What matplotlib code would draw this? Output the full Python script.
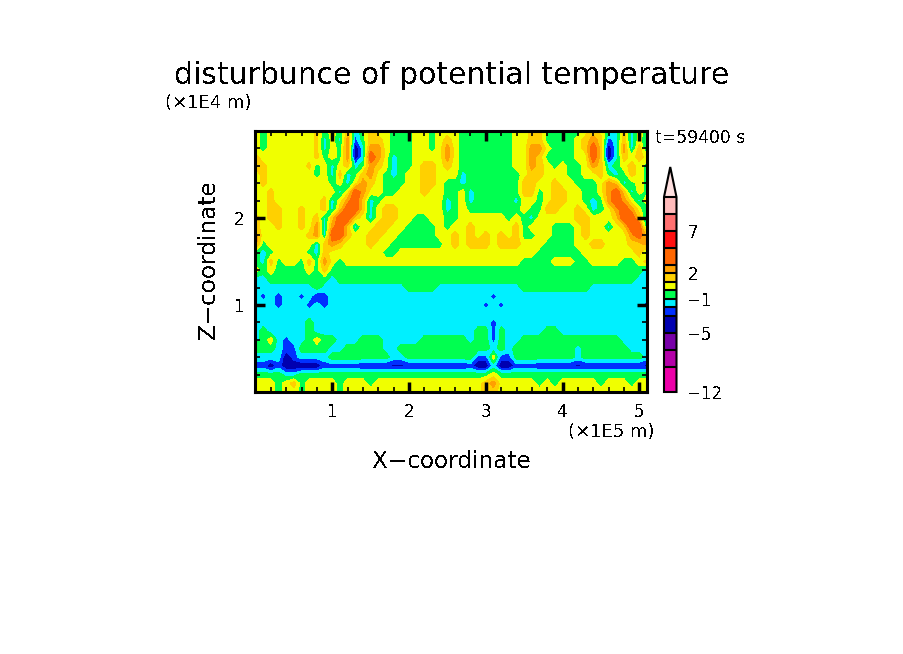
import numpy as np
import matplotlib
matplotlib.use("Agg")
import matplotlib.pyplot as plt
from matplotlib.colors import ListedColormap, BoundaryNorm

plt.rcParams['font.family'] = ['DejaVu Sans']
plt.rcParams['text.antialiased'] = False

# contour levels and colours of the shading
levels = [-12, -9, -7, -5, -3, -2, -1, 0, 1, 2, 3, 5, 7, 9, 11]
colors = ['#ec00a8', '#b400a8', '#7800a8', '#0000b0', '#0030ff', '#00f0ff', '#00ff50',
          '#f0ff00', '#ffd000', '#ffa000', '#ff6600', '#ff1010', '#ff7070', '#ffbbbb']
over_color = '#ffe0e0'
cbar_ticks = [-12, -5, -1, 2, 7]

# values, one letter per grid point
class_value = {'b': -4.0, 'd': -3.2, 'B': -2.5, 'e': -2.4, 'c': -1.5, 'g': -0.5,
               'y': 0.5, 'l': 1.3, 'o': 1.5, 'a': 2.5, 'r': 4.0}

x_km = np.arange(0, 52) * 0.1   # x1E5 m
z_km = np.arange(30, -1, -1) * 0.1   # x1E4 m

# rows from z=3.0 down to z=0.0, columns from x=0.0 to x=5.1
theta_rows = [
    "ygyyyyyylgygocgoyygggyygyyy" "gggggggyyooggggg" "yoygcocyg",
    "ygyyyyyylcycaBgooygggyygyoy" "gggggggyyoogggg" "y" "oao" "Bcocyc",
    "ygyyyyyylcygabcaaygggyygyay" "gggggggyyaaygggyorobcacoc",
    "lyyyyyyylgygabcraycggyyyyay" "gggggggyyaoggggyyrobcoyoy",
    "llyyyyylgycyocgaoycggyooyoy" "gggggggyyaoygyggyaocgyoyg",
    "ylyyyyyygycocgoaygcgyyooyyy" "cgggggggyooyyyggyyogcgoyg",
    "ylyyyyyyyygycyaoygggyyooygg" "cgggggggooyyoyygggyaocgyg",
    "yylyyyyyyyycyrayyggyyyoyygg" "ycggggggoogyooyyggyarocyg",
    "yylyyyyyyocyarocgyyyyyyyycg" "ycgggggcyygyooyygcgarayco",
    "yyllyylyyocorrocyooyyyyyycg" "ygggggggyggooyyoycgyarayc",
    "oyllyylyocorroycyooyyggyygg" "yyyyyygygcyyyyyooyyyorroc",
    "oyylyylyacarocyyooyyggggygy" "yoyyyyyogyyygggyoyycyorrc",
    "ayyyyyylacrroyyooyygggggyyo" "yoyoyoyoggyygggyoyyyyyaro",
    "agyyyyyycoaoyyyoyygggggggyo" "yoooyoooyyyggggyyooyyyooa",
    "gcgyyyygcoyyyyyyyggyyyyyyyy" "yyyyyyyyyyggggggyyyyyyyoc",
    "gcogyygogayg" + "y" * 15 + "yyyyyyyyggggyyyggyyyyggyo",
    "ygyggggygogg" + "g" * 15 + "g" * 24 + "c",
    "ccggggggggcg" + "g" * 15 + "g" * 23 + "cc",
    "cccccccc" + "g" + "c" * 11 + "gggg" + "ccc" + "c" * 8 + "g" * 9 + "c" * 8,
    "cecBccecdB" + "c" * 17 + "cccc" + "e" + "c" * 20,
    "cccBcccBcB" + "c" * 17 + "ccc" + "ece" + "c" * 18 + "B",
    "c" * 52,
    "ccccccc" + "g" + "c" * 19 + "cccc" + "e" + "c" * 20,
    "cgccccc" + "g" + "c" * 19 + "ccgge" + "gccccc" + "gg" + "c" * 12,
    "cgyceccgyggcccgggcccccggggg" "gcggegcc" + "g" * 13 + "cccc",
    "gggcBegggg" "cc" "ggggg" "cc" + "g" * 8 + "ggggcgcg" + "g" * 7 + "c" + "g" * 6 + "ccc",
    "ccccbBccccggggggggccggggggg" "ggBByBBg" + "g" * 7 + "c" + "g" * 8 + "c",
    "BBbBbbbbbB" "BBBB" + "d" * 13 + "dBbbcbbB" "BB" + "d" * 15,
    "ggggcc" + "g" * 21 + "ggggy" + "g" * 20,
    "yyygyogyyyygyyygyyyyyyyyyyy" "yyyoay" "yyyy" "gyg" "yyyy" "yg" "yyy" "gyy",
    "yyygyygyyyy" "g" + "y" * 15 + "yyyooy" + "y" * 19,
]

theta = np.array([[class_value[c] for c in row] for row in theta_rows])

fig = plt.figure(figsize=(9.04, 6.54), dpi=100)
W, H = 904, 654

# main panel
ax = fig.add_axes([255.5 / W, 1 - 392 / H, 391.5 / W, 261 / H])
cmap = ListedColormap(colors)
cmap.set_over(over_color)
norm = BoundaryNorm(levels, cmap.N)
cs = ax.contourf(x_km, z_km, theta, levels=levels, cmap=cmap, norm=norm, extend='max', antialiased=False)

ax.set_xlim(0, 5.1)
ax.set_ylim(0, 3.0)
ax.set_xticks([1, 2, 3, 4, 5])
ax.set_yticks([1, 2])
ax.set_xticks(np.arange(0.2, 5.1, 0.2), minor=True)
ax.set_yticks(np.arange(0.2, 3.0, 0.2), minor=True)
ax.tick_params(which='major', direction='in', length=7, width=2.5, top=True, right=True, labelsize=12, pad=8)
ax.tick_params(which='minor', direction='in', length=3.5, width=1.2, top=True, right=True)
for s in ax.spines.values():
    s.set_linewidth(2.2)

# colour bar
cax = fig.add_axes([664 / W, 1 - 392 / H, 12.5 / W, 225 / H])
cbar = fig.colorbar(cs, cax=cax, extend='max', extendfrac=0.154, spacing='proportional',
                    drawedges=True, ticks=cbar_ticks)
cbar.ax.minorticks_off()
cbar.ax.tick_params(length=0, labelsize=12, pad=8)
cbar.ax.set_yticklabels(['\u221212', '\u22125', '\u22121', '2', '7'])
cbar.outline.set_linewidth(1.5)
cbar.dividers.set_linewidth(1.5)

# labels
fig.text(452 / W, 1 - 76 / H, 'disturbunce of potential temperature', fontsize=21.5, ha='center', va='center')
fig.text(452 / W, 1 - 461 / H, 'X\u2212coordinate', fontsize=16.7, ha='center', va='center')
fig.text(209 / W, 1 - 260 / H, 'Z\u2212coordinate', fontsize=16.7, ha='center', va='center', rotation=90)
fig.text(208 / W, 1 - 103 / H, '(\u00d71E4 m)', fontsize=13, ha='center', va='center')
fig.text(611 / W, 1 - 432 / H, '(\u00d71E5 m)', fontsize=13, ha='center', va='center')
fig.text(655 / W, 1 - 138 / H, 't=59400 s', fontsize=12.3, ha='left', va='center')

fig.savefig('out.png', dpi=100)
